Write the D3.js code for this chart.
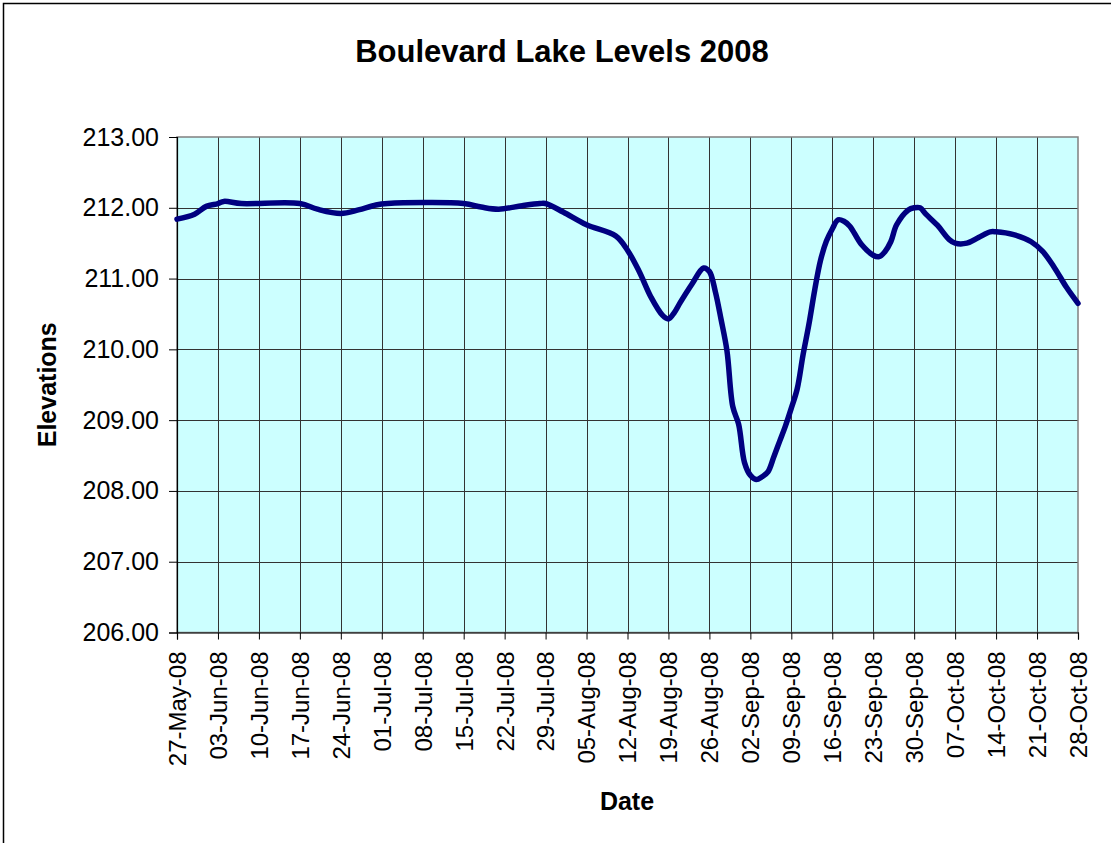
<!DOCTYPE html>
<html>
<head>
<meta charset="utf-8">
<script src="https://cdn.jsdelivr.net/npm/d3@7"></script>
<style>
  html, body { margin: 0; padding: 0; background: #fff; }
  svg { display: block; font-family: "Liberation Sans", Arial, sans-serif; }
</style>
</head>
<body>
<svg id="chart"></svg>
<script>
const obsDates = [
  '2008-05-27', '2008-05-30', '2008-06-01', '2008-06-03', '2008-06-04', '2008-06-07',
  '2008-06-17', '2008-06-20', '2008-06-24', '2008-06-27', '2008-06-30', '2008-07-02',
  '2008-07-15', '2008-07-18', '2008-07-21', '2008-07-25', '2008-07-28', '2008-07-29',
  '2008-08-01', '2008-08-05', '2008-08-10', '2008-08-12', '2008-08-14', '2008-08-16',
  '2008-08-18', '2008-08-19', '2008-08-20', '2008-08-21', '2008-08-23', '2008-08-25',
  '2008-08-26', '2008-08-27', '2008-08-28', '2008-08-29', '2008-08-30', '2008-08-31',
  '2008-09-01', '2008-09-02', '2008-09-03', '2008-09-04', '2008-09-05', '2008-09-06',
  '2008-09-07', '2008-09-08', '2008-09-09', '2008-09-10', '2008-09-11', '2008-09-12',
  '2008-09-13', '2008-09-14', '2008-09-15', '2008-09-16', '2008-09-17', '2008-09-18',
  '2008-09-19', '2008-09-21', '2008-09-23', '2008-09-24', '2008-09-25', '2008-09-26',
  '2008-09-27', '2008-09-29', '2008-09-30', '2008-10-01', '2008-10-02', '2008-10-04',
  '2008-10-06', '2008-10-07', '2008-10-09', '2008-10-11', '2008-10-13', '2008-10-14',
  '2008-10-17', '2008-10-20', '2008-10-22', '2008-10-24', '2008-10-26', '2008-10-28'
];
const elevations = [
  211.84, 211.91, 212.02, 212.06, 212.09, 212.06,
  212.06, 211.98, 211.92, 211.97, 212.04, 212.06,
  212.06, 212.01, 211.98, 212.03, 212.06, 212.06,
  211.94, 211.76, 211.60, 211.40, 211.10, 210.74,
  210.48, 210.43, 210.52, 210.66, 210.92, 211.15,
  211.10, 210.82, 210.42, 209.98, 209.19, 208.94,
  208.40, 208.22, 208.16, 208.20, 208.27, 208.48,
  208.70, 208.92, 209.17, 209.44, 209.92, 210.35,
  210.84, 211.26, 211.53, 211.70, 211.83, 211.81,
  211.74, 211.48, 211.33, 211.31, 211.38, 211.52,
  211.76, 211.97, 212.00, 212.00, 211.91, 211.75,
  211.55, 211.50, 211.50, 211.58, 211.66, 211.66,
  211.62, 211.52, 211.38, 211.15, 210.88, 210.65
];

// weekly date ticks and elevation ticks
const xTickDates = [
  '2008-05-27', '2008-06-03', '2008-06-10', '2008-06-17', '2008-06-24', '2008-07-01',
  '2008-07-08', '2008-07-15', '2008-07-22', '2008-07-29', '2008-08-05', '2008-08-12',
  '2008-08-19', '2008-08-26', '2008-09-02', '2008-09-09', '2008-09-16', '2008-09-23',
  '2008-09-30', '2008-10-07', '2008-10-14', '2008-10-21', '2008-10-28'
];
const yTicks = [206, 207, 208, 209, 210, 211, 212, 213];

const width = 1111;
const height = 843;
const plot = { left: 177, right: 1078, top: 137, bottom: 632.5 };

const parse = d3.utcParse('%Y-%m-%d');
const data = obsDates.map((d, i) => ({ date: parse(d), value: elevations[i] }));
const tickDates = xTickDates.map(parse);

const svg = d3.select('#chart')
  .attr('width', width)
  .attr('height', height);

// outer chart frame (extends past the visible picture)
svg.append('rect')
  .attr('x', 3.5).attr('y', 3.5)
  .attr('width', 1300).attr('height', 1000)
  .attr('fill', '#fff')
  .attr('stroke', '#000')
  .attr('stroke-width', 1.5);

const x = d3.scaleUtc()
  .domain([tickDates[0], tickDates[tickDates.length - 1]])
  .range([plot.left, plot.right]);

const y = d3.scaleLinear()
  .domain([206, 213])
  .range([plot.bottom, plot.top]);

// plot background
svg.append('rect')
  .attr('x', plot.left).attr('y', plot.top)
  .attr('width', plot.right - plot.left)
  .attr('height', plot.bottom - plot.top)
  .attr('fill', '#ccffff');

// gridlines
svg.append('g')
  .selectAll('line')
  .data(tickDates.slice(1, -1))
  .enter()
  .append('line')
  .attr('x1', d => Math.round(x(d)) + 0.5).attr('x2', d => Math.round(x(d)) + 0.5)
  .attr('y1', plot.top).attr('y2', plot.bottom)
  .attr('stroke', '#333')
  .attr('stroke-width', 1);

svg.append('g')
  .selectAll('line')
  .data(yTicks.slice(1, -1))
  .enter()
  .append('line')
  .attr('x1', plot.left).attr('x2', plot.right)
  .attr('y1', d => Math.round(y(d)) + 0.5).attr('y2', d => Math.round(y(d)) + 0.5)
  .attr('stroke', '#333')
  .attr('stroke-width', 1);

// plot border
svg.append('rect')
  .attr('x', plot.left).attr('y', plot.top)
  .attr('width', plot.right - plot.left)
  .attr('height', plot.bottom - plot.top)
  .attr('fill', 'none')
  .attr('stroke', '#808080')
  .attr('stroke-width', 1.5);

// y axis
const yAxis = svg.append('g')
  .attr('transform', `translate(${plot.left},0)`)
  .call(d3.axisLeft(y)
    .tickValues(yTicks)
    .tickFormat(d3.format('.2f'))
    .tickSizeOuter(0)
    .tickSize(8)
    .tickPadding(10));
yAxis.select('.domain').attr('stroke', '#000').attr('stroke-width', 1.2);
yAxis.selectAll('.tick line').attr('stroke', '#000');
yAxis.selectAll('text')
  .attr('font-family', '"Liberation Sans", Arial, sans-serif')
  .attr('font-size', 25)
  .attr('fill', '#000');

// x axis
const xAxis = svg.append('g')
  .attr('transform', `translate(0,${plot.bottom})`)
  .call(d3.axisBottom(x)
    .tickValues(tickDates)
    .tickFormat(d3.utcFormat('%d-%b-%y'))
    .tickSizeOuter(0)
    .tickSize(7));
xAxis.select('.domain').attr('stroke', '#000').attr('stroke-width', 1.2);
xAxis.selectAll('.tick line').attr('stroke', '#000');
xAxis.selectAll('text')
  .attr('font-family', '"Liberation Sans", Arial, sans-serif')
  .attr('font-size', 24)
  .attr('fill', '#000')
  .attr('transform', 'rotate(-90)')
  .attr('x', -19)
  .attr('y', 0)
  .attr('dy', '0.35em')
  .style('text-anchor', 'end');

// elevation line
const line = d3.line()
  .x(d => x(d.date))
  .y(d => y(d.value))
  .curve(d3.curveCatmullRom.alpha(0.5));

svg.append('path')
  .datum(data)
  .attr('d', line)
  .attr('fill', 'none')
  .attr('stroke', '#000080')
  .attr('stroke-width', 5.5)
  .attr('stroke-linejoin', 'round')
  .attr('stroke-linecap', 'round');

// titles
svg.append('text')
  .attr('x', 562).attr('y', 62)
  .attr('text-anchor', 'middle')
  .attr('font-size', 31)
  .attr('font-weight', 'bold')
  .text('Boulevard Lake Levels 2008');

svg.append('text')
  .attr('transform', `translate(56,${(plot.top + plot.bottom) / 2}) rotate(-90)`)
  .attr('text-anchor', 'middle')
  .attr('font-size', 25)
  .attr('font-weight', 'bold')
  .text('Elevations');

svg.append('text')
  .attr('x', 627).attr('y', 810)
  .attr('text-anchor', 'middle')
  .attr('font-size', 25)
  .attr('font-weight', 'bold')
  .text('Date');
</script>
</body>
</html>
